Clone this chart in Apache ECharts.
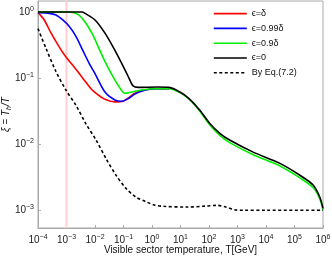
<!DOCTYPE html>
<html>
<head>
<meta charset="utf-8">
<script src="https://cdn.jsdelivr.net/npm/echarts@6/dist/echarts.min.js"></script>
<style>
html,body{margin:0;padding:0;background:#fff;}
#c{width:332px;height:261px;}
</style>
</head>
<body>
<div id="c"></div>
<script>
// ---- data ----
const seriesNames = ['ϵ=δ', 'ϵ=0.99δ', 'ϵ=0.9δ', 'ϵ=0', 'By Eq.(7.2)'];
const xTickValues = [1e-4, 1e-3, 1e-2, 1e-1, 1, 10, 100, 1e3, 1e4, 1e5, 1e6];
const yRange = [5.4e-4, 1.47];
const markT = 1e-3;

const redT  = [1e-4, 1.12e-4, 1.66e-4, 2.88e-4, 5.62e-4, 9.55e-4, 1.86e-3, 3.72e-3, 7.24e-3, 0.011, 0.0224, 0.0501, 0.0977, 0.17, 0.251, 0.437, 1.29, 3.98];
const redXi = [0.977, 0.933, 0.759, 0.479, 0.295, 0.209, 0.148, 0.1, 0.0692, 0.0589, 0.0479, 0.0437, 0.0447, 0.0525, 0.0589, 0.0646, 0.0692, 0.0692];

const blueT  = [1e-4, 2.51e-4, 4.27e-4, 7.41e-4, 1.26e-3, 2.14e-3, 3.72e-3, 6.31e-3, 0.01, 0.0224, 0.0501, 0.0871, 0.148, 0.251, 0.49, 1.29, 3.98];
const blueXi = [0.977, 0.955, 0.902, 0.759, 0.603, 0.427, 0.263, 0.166, 0.117, 0.0617, 0.0468, 0.0447, 0.049, 0.0575, 0.0646, 0.0692, 0.0692];

const greenT  = [1e-4, 1e-3, 1.82e-3, 2.82e-3, 4.79e-3, 8.32e-3, 0.0148, 0.0224, 0.0501, 0.0871, 0.112, 0.195, 0.437, 1.29, 3.98, 9.55, 20, 47.9, 107, 245, 550, 3548, 30900, 155000, 457000, 776000, 1e6];
const greenXi = [1, 1, 0.977, 0.891, 0.676, 0.457, 0.263, 0.178, 0.0933, 0.0646, 0.0589, 0.0617, 0.0661, 0.0692, 0.0692, 0.0603, 0.0479, 0.0316, 0.0195, 0.0135, 0.01047, 0.00692, 0.00468, 0.00309, 0.00219, 0.00148, 0.00102];

const blackT  = [1e-4, 1e-3, 3.55e-3, 4.47e-3, 0.01, 0.0224, 0.0501, 0.0871, 0.148, 0.219, 0.331, 1.58, 3.98, 9.55, 20, 47.9, 107, 245, 550, 3548, 30900, 155000, 457000, 776000, 1e6];
const blackXi = [1, 1, 1, 0.955, 0.759, 0.479, 0.263, 0.166, 0.105, 0.0759, 0.0724, 0.0733, 0.0724, 0.0617, 0.049, 0.0327, 0.0206, 0.0145, 0.01148, 0.00759, 0.00513, 0.00339, 0.0024, 0.00158, 0.00107];

const eqT  = [1e-4, 1.91e-4, 4.27e-4, 9.55e-4, 2.14e-3, 4.79e-3, 0.011, 0.0245, 0.055, 0.123, 0.275, 0.617, 1.2, 2.51, 16.6, 79.4, 186, 398, 794, 1585, 1e4, 1e6];
const eqXi = [0.562, 0.282, 0.126, 0.0661, 0.0389, 0.0204, 0.01148, 0.00603, 0.00339, 0.00214, 0.00158, 0.00135, 0.0012, 0.00115, 0.00112, 0.00116, 0.00119, 0.00112, 0.00102, 0.001, 0.001, 0.001];

// ---- chart ----
function pairs(xs, ys) { return xs.map((x, i) => [x, ys[i]]); }
function expLabel(v) {
  const e = Math.round(Math.log10(v));
  const s = e < 0 ? '\u2212' + (-e) : String(e);
  return '10{sup|' + s + '}';
}
const labelRich = {
  sup: { fontSize: 7, verticalAlign: 'bottom', padding: [0, 0, 6, 0], color: '#222', fontFamily: 'Liberation Sans' }
};
const colors = ['#ff0000', '#0000ff', '#00ee00', '#000000', '#000000'];
const datas = [pairs(redT, redXi), pairs(blueT, blueXi), pairs(greenT, greenXi), pairs(blackT, blackXi), pairs(eqT, eqXi)];

const series = [{
  name: 'mark',
  type: 'line',
  data: [[markT, yRange[0]], [markT, yRange[1]]],
  symbol: 'none',
  silent: true,
  lineStyle: { color: '#ffcfcf', width: 2 },
  z: 1
}];
datas.forEach((d, i) => series.push({
  name: seriesNames[i],
  type: 'line',
  data: d,
  showSymbol: false,
  symbol: 'none',
  smooth: 0.3,
  color: colors[i],
  lineStyle: { color: colors[i], width: 1.6, type: i === 4 ? [3, 2.5] : 'solid' },
  z: 3 + i
}));

const chart = echarts.init(document.getElementById('c'), null, { renderer: 'canvas' });
chart.setOption({
  animation: false,
  backgroundColor: '#fff',
  textStyle: { fontFamily: 'Liberation Sans' },
  grid: { left: 38, right: 9, top: 1, bottom: 33, containLabel: false, outerBoundsMode: 'none', show: true, borderColor: '#aaa', borderWidth: 1 },
  legend: {
    data: seriesNames,
    orient: 'vertical',
    left: 208,
    top: 3,
    itemWidth: 33,
    itemHeight: 14,
    itemGap: 3.6,
    itemStyle: { opacity: 0, borderWidth: 0 },
    lineStyle: { width: 1.6 },
    textStyle: { fontSize: 9, color: '#111', fontFamily: 'Liberation Sans' }
  },
  xAxis: {
    type: 'log',
    logBase: 10,
    min: xTickValues[0],
    max: xTickValues[xTickValues.length - 1],
    name: 'Visible sector temperature, T[GeV]',
    nameLocation: 'middle',
    nameGap: 17,
    nameMoveOverlap: false,
    nameTextStyle: { fontSize: 10, color: '#111', fontFamily: 'Liberation Sans' },
    axisLine: { lineStyle: { color: '#aaa', width: 1 } },
    axisTick: { inside: true, length: 3, lineStyle: { color: '#aaa' } },
    splitLine: { show: false },
    minorTick: { show: false },
    axisLabel: { fontSize: 10, color: '#222', margin: 6, formatter: expLabel, rich: labelRich, showMinLabel: true, showMaxLabel: true }
  },
  yAxis: {
    type: 'log',
    logBase: 10,
    min: yRange[0],
    max: yRange[1],
    name: 'ξ = T{sub|h}/T',
    nameLocation: 'middle',
    nameGap: 25,
    nameRotate: 90,
    nameMoveOverlap: false,
    nameTextStyle: {
      fontSize: 10, color: '#111', fontStyle: 'italic', fontFamily: 'Liberation Sans',
      rich: { sub: { fontSize: 7, fontStyle: 'italic', verticalAlign: 'top', padding: [6, 0, 0, 0], color: '#111' } }
    },
    axisLine: { lineStyle: { color: '#aaa', width: 1 } },
    axisTick: { inside: true, length: 3, lineStyle: { color: '#aaa' } },
    splitLine: { show: false },
    minorTick: { show: false },
    axisLabel: {
      fontSize: 10, color: '#222', margin: 4, rich: labelRich,
      showMinLabel: false, showMaxLabel: false,
      formatter: function (v) {
        const e = Math.log10(v);
        if (Math.abs(e - Math.round(e)) > 1e-6) return '';
        return expLabel(v);
      }
    }
  },
  series: series
});
</script>
</body>
</html>
